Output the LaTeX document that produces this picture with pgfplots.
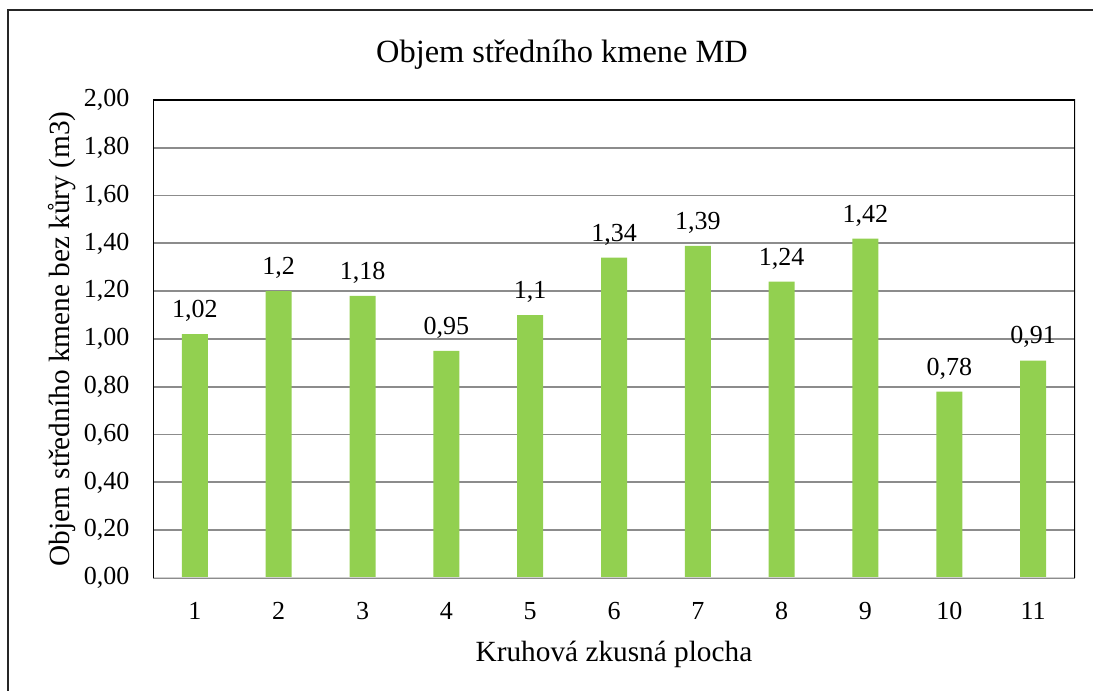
\documentclass[border=0pt]{standalone}
\usepackage{fontspec}
\setmainfont{Liberation Serif}
\usepackage{pgfplots}
\pgfplotsset{compat=1.18}
\definecolor{bargreen}{HTML}{92D050}
\definecolor{gridgray}{HTML}{8C8C8C}
\definecolor{basegray}{HTML}{D0D0D0}
\begin{document}
\begin{tikzpicture}
\useasboundingbox (0pt,0pt) rectangle (1093pt,691pt);
\draw[line width=2.6pt, black!85] (8pt,-5pt) -- (8pt,681pt) -- (1100pt,681pt);
\begin{axis}[
  at={(153pt,113pt)}, anchor=south west,
  scale only axis, width=922pt, height=478pt,
  xmin=0.5, xmax=11.5, ymin=0, ymax=2,
  xtick={1,2,3,4,5,6,7,8,9,10,11},
  ytick={0,0.2,0.4,0.6,0.8,1,1.2,1.4,1.6,1.8,2},
  major tick length=0pt,
  axis line style={draw=none},
  ymajorgrids,
  major grid style={gridgray, line width=1.8pt},
  /pgf/number format/assume math mode=true,
  ticklabel style={font=\fontsize{26}{30}\selectfont},
  xticklabel style={yshift=-21pt},
  yticklabel style={xshift=-20pt, /pgf/number format/fixed, /pgf/number format/fixed zerofill, /pgf/number format/precision=2, /pgf/number format/use comma},
  title={Objem středního kmene MD},
  title style={font=\fontsize{32.4}{38}\selectfont, at={(axis description cs:0.4436,1.083)}, anchor=center},
  xlabel={Kruhová zkusná plocha},
  xlabel style={font=\fontsize{29.3}{34}\selectfont, at={(axis description cs:0.5,-0.160)}, anchor=center},
  ylabel={Objem středního kmene bez kůry (m3)},
  every axis y label/.style={font=\fontsize{29.3}{34}\selectfont, at={(axis description cs:-0.0987,0.5)}, rotate=90, anchor=center},
  ybar, bar width=26pt,
  nodes near coords,
  nodes near coords style={font=\fontsize{26}{30}\selectfont, anchor=south, yshift=9pt, /pgf/number format/use comma, /pgf/number format/assume math mode=true},
]
\addplot[fill=bargreen, draw=none] coordinates {
 (1,1.02) (2,1.2) (3,1.18) (4,0.95) (5,1.1) (6,1.34) (7,1.39) (8,1.24) (9,1.42) (10,0.78) (11,0.91)
};
\draw[basegray, line width=2pt] (rel axis cs:0,0) -- (rel axis cs:1,0);
\draw[black, line width=2.4pt] (rel axis cs:0,0) -- (rel axis cs:0,1) -- (rel axis cs:1,1) -- (rel axis cs:1,0);
\end{axis}
\end{tikzpicture}
\end{document}
